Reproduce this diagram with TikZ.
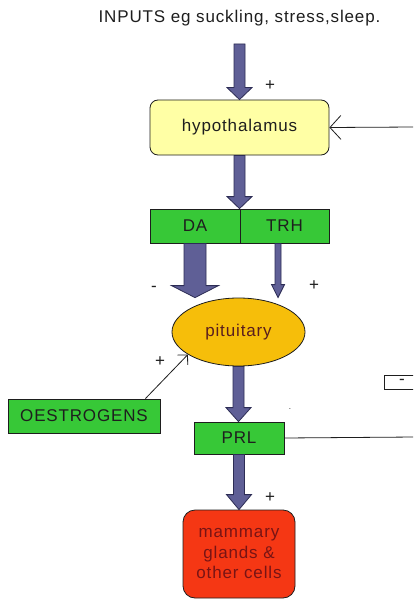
\documentclass[tikz,border=0pt]{standalone}
\usepackage{fontspec}
\setmainfont{Liberation Sans}[LetterSpace=5]
\usetikzlibrary{shapes.geometric,arrows.meta,calc}
\definecolor{hypfill}{RGB}{255,255,165}
\definecolor{boxgreen}{RGB}{55,200,55}
\definecolor{pitfill}{RGB}{246,190,10}
\definecolor{redfill}{RGB}{245,55,20}
\definecolor{arrfill}{RGB}{95,95,150}
\definecolor{arrline}{RGB}{45,45,85}
\definecolor{pittext}{RGB}{90,30,30}
\definecolor{mamtext}{RGB}{120,20,20}
\definecolor{ink}{RGB}{30,30,30}
\tikzset{
  base/.style={draw=ink, line width=0.8pt, text=ink, inner sep=0pt},
  greenbox/.style={base, rectangle, fill=boxgreen},
  fatarr/.style={fill=arrfill, draw=arrline, line width=0.8pt},
  thin/.style={draw=ink, line width=0.8pt},
  sign/.style={text=ink, inner sep=0pt}
}
\newcommand\fatarrow[5]{\filldraw[fatarr] let \p1=(#1), \p2=(#2) in
  (\x1-#3,\y1) -- (\x1-#3,\y2+#5) -- (\x1-#4,\y2+#5) -- (\x1,\y2) --
  (\x1+#4,\y2+#5) -- (\x1+#3,\y2+#5) -- (\x1+#3,\y1) -- cycle;}
\begin{document}
\begin{tikzpicture}[x=1pt,y=-1pt,font=\fontsize{17}{20.5}\selectfont]
\useasboundingbox (0,0) rectangle (413,599);
\fill[white] (0,0) rectangle (413,599);
\clip (0,0) rectangle (413,599);

% nodes
\node[text=ink] (inputs) at (239.5,18) {INPUTS eg suckling, stress,sleep.};
\coordinate (instart) at (239.5,44);
\node[base, rectangle, rounded corners=8pt, fill=hypfill, minimum width=179pt, minimum height=55pt] (hyp) at (239.5,127.5) {hypothalamus};
\node[greenbox, minimum width=90pt, minimum height=34pt] (da) at (195,226) {DA};
\node[greenbox, minimum width=89pt, minimum height=34pt] (trh) at (284.5,226) {TRH};
\node[base, ellipse, fill=pitfill, text=pittext, minimum width=133pt, minimum height=68pt] (pit) at (238.5,332) {pituitary};
\node[greenbox, minimum width=152pt, minimum height=34pt] (oes) at (84,416) {OESTROGENS};
\node[greenbox, minimum width=90pt, minimum height=32pt] (prl) at (239,438) {PRL};
\node[base, rectangle, rounded corners=12pt, fill=redfill, text=mamtext, minimum width=112pt, minimum height=88pt, align=center] (mam) at (239,554) {mammary\\glands \&\\other cells};
\node[base, rectangle, fill=white, minimum width=36pt, minimum height=14pt] (minus) at (402,382) {-};
\node[sign, font=\fontsize{8}{8}\selectfont] (dot) at (290,409) {.};

% fat arrows
\coordinate (trhstart) at ($(trh.south)+(-6.5,0)$);
\fatarrow{instart}{hyp.north}{5.5pt}{12.5pt}{12pt}
\fatarrow{hyp.south}{da.north east}{5.5pt}{12.5pt}{12pt}
\fatarrow{da.south}{pit.north}{11pt}{23.5pt}{12pt}
\fatarrow{trhstart}{pit.north}{3pt}{6.5pt}{13pt}
\fatarrow{pit.south}{prl.north}{5.5pt}{12.5pt}{14pt}
\fatarrow{prl.south}{mam.north}{5.5pt}{12.5pt}{15pt}

% thin connectors
\coordinate (rightin) at (415,127);
\coordinate (rightout) at (415,437);
\draw[thin, -{Straight Barb[length=11pt,width=24pt]}] (rightin) -- (hyp.east);
\draw[thin] (prl.east) -- (rightout);
\coordinate (oesstart) at ($(oes.north east)+(-15,0)$);
\draw[thin, -{Straight Barb[length=7pt,width=14pt]}] (oesstart) -- (pit.204.5);

% signs
\node[sign] (p1) at (270,86) {+};
\node[sign] (p2) at (314,286) {+};
\node[sign] (m1) at (154,289) {-};
\node[sign] (p3) at (160,362) {+};
\node[sign] (p4) at (270,498) {+};
\end{tikzpicture}
\end{document}
